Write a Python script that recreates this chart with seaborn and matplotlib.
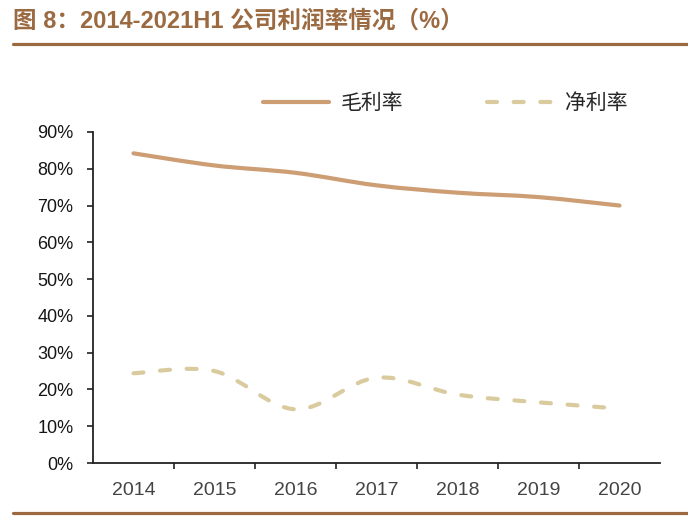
import numpy as np
import matplotlib
matplotlib.use("Agg")
import matplotlib.pyplot as plt
import seaborn as sns
from matplotlib.path import Path
from matplotlib.patches import PathPatch
from matplotlib.lines import Line2D
from matplotlib.font_manager import FontProperties

# Data (%)
years = ["2014", "2015", "2016", "2017", "2018", "2019", "2020"]
gross_margin = [84.2, 80.9, 78.9, 75.5, 73.5, 72.3, 70.0]
net_margin = [24.4, 25.0, 14.6, 23.2, 18.6, 16.5, 14.8]
series_names = ["毛利率", "净利率"]
y_ticks = [0, 10, 20, 30, 40, 50, 60, 70, 80, 90]
title = "图 8：2014-2021H1 公司利润率情况（%）"

brown = "#9B6A41"
gross_color = "#CD9D74"
net_color = "#DACB9F"
net_dash = (0, (2.4, 4.0))

sns.set_style("ticks")
plt.rcParams["font.family"] = ["Liberation Sans", "Noto Sans CJK SC"]


def smooth_path(xs, ys):
    # Excel-style smoothed line: Catmull-Rom segments as cubic Beziers
    pts = np.column_stack([xs, ys]).astype(float)
    n = len(pts)
    verts = [pts[0]]
    codes = [Path.MOVETO]
    for i in range(n - 1):
        p0 = pts[i - 1] if i > 0 else pts[i]
        p3 = pts[i + 2] if i + 2 < n else pts[i + 1]
        c1 = pts[i] + (pts[i + 1] - p0) / 6
        c2 = pts[i + 1] - (p3 - pts[i]) / 6
        verts += [c1, c2, pts[i + 1]]
        codes += [Path.CURVE4] * 3
    return Path(verts, codes)


fig = plt.figure(figsize=(6.88, 5.16), dpi=100)
ax = fig.add_axes([93 / 688, 53 / 516, 567 / 688, 331 / 516])

x = np.arange(len(years))
ax.add_patch(PathPatch(smooth_path(x, gross_margin), facecolor="none",
                       edgecolor=gross_color, lw=3, capstyle="round",
                       joinstyle="round"))
ax.add_patch(PathPatch(smooth_path(x, net_margin), facecolor="none",
                       edgecolor=net_color, lw=3, capstyle="round",
                       joinstyle="round", linestyle=net_dash))

ax.set_xlim(-0.5, len(years) - 0.5)
ax.set_ylim(0, 90)
ax.set_yticks(y_ticks)
ax.set_yticklabels([f"{v}%" for v in y_ticks])

# category labels centred, tick marks on the boundaries
ax.set_xticks(x[:-1] + 0.5)
ax.set_xticklabels([])
ax.set_xticks(x, minor=True)
ax.set_xticklabels(years, minor=True)
ax.tick_params(axis="x", which="major", length=4, width=1.2, color="#222222")
ax.tick_params(axis="x", which="minor", length=0, pad=13.5,
               labelsize=14, labelcolor="#444444")
ax.tick_params(axis="y", length=4, width=1.2, color="#222222", pad=10,
               labelsize=13, labelcolor="#151515")

sns.despine(ax=ax)
for side in ["left", "bottom"]:
    ax.spines[side].set_color("#222222")
    ax.spines[side].set_linewidth(1.3)

handles = [
    Line2D([], [], color=gross_color, lw=3, solid_capstyle="round"),
    Line2D([], [], color=net_color, lw=3, linestyle=net_dash,
           dash_capstyle="round"),
]
ax.legend(handles, series_names, loc="center",
          bbox_to_anchor=(445 / 688, 1 - 103 / 516),
          bbox_transform=fig.transFigure, ncol=2, frameon=False,
          handlelength=3.2, columnspacing=4.0, handletextpad=0.55,
          prop=FontProperties(family="Noto Sans CJK SC", size=15))

fig.text(13 / 688, 1 - 21 / 516, title, fontsize=17, fontweight="bold",
         color=brown, ha="left", va="center",
         family=["Liberation Sans", "Noto Sans CJK SC"])
fig.add_artist(Line2D([13 / 688, 1], [1 - 44 / 516] * 2,
                      transform=fig.transFigure, color=brown, lw=2.3))
fig.add_artist(Line2D([13 / 688, 1], [1 - 513 / 516] * 2,
                      transform=fig.transFigure, color=brown, lw=2.3))

fig.savefig("out.png", dpi=100)
